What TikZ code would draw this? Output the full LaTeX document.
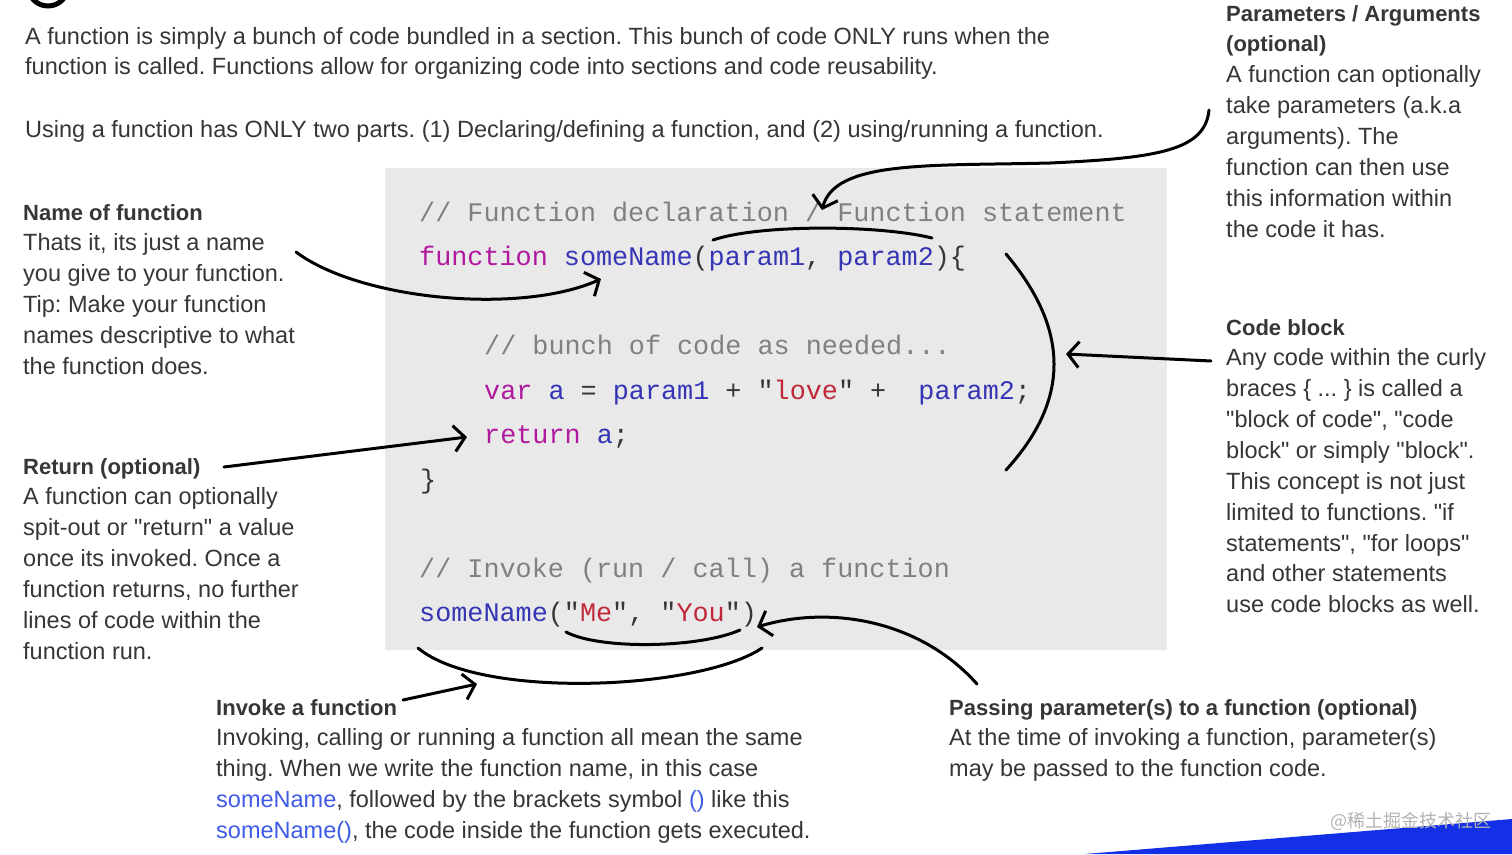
\documentclass[tikz,border=0pt]{standalone}
\usepackage{fontspec}
\setmainfont{Liberation Sans}[Ligatures=TeXOff]
\setmonofont{Liberation Mono}
\newfontfamily\cjkfont{Noto Sans CJK SC}
\usetikzlibrary{arrows.meta}
\frenchspacing

\definecolor{boxgray}{HTML}{E9E9E9}
\definecolor{txtgray}{HTML}{363636}
\definecolor{cmtgray}{HTML}{808080}
\definecolor{kwpink}{HTML}{B0199E}
\definecolor{idblue}{HTML}{3535B5}
\definecolor{strred}{HTML}{C0283A}
\definecolor{linkblue}{HTML}{3F5BE6}
\definecolor{bandblue}{HTML}{1430E6}

\newcommand\kwd[1]{\textcolor{kwpink}{#1}}
\newcommand\idn[1]{\textcolor{idblue}{#1}}
\newcommand\strg[1]{\textcolor{strred}{#1}}
\newcommand\lnk[1]{\textcolor{linkblue}{#1}}
\newcommand\hd[1]{{\fontsize{22}{30.85}\selectfont\bfseries #1}}

\tikzset{
  note/.style={anchor=north west, inner sep=0pt, align=left, text=txtgray,
    font=\fontsize{23.5}{30.85}\selectfont},
  code/.style={anchor=base west, inner sep=0pt, text=txtgray,
    font=\ttfamily\fontsize{26.8}{30}\selectfont},
  pen/.style={black, line width=3pt, line cap=round},
  penarrow/.style={pen, -{Straight Barb[length=11pt,width=26pt]}}
}

\begin{document}
\begin{tikzpicture}[x=1pt, y=-1pt]
    % Page
    \useasboundingbox (0,0) rectangle (1512,854);
    \clip (0,0) rectangle (1512,854);
    \fill[white] (0,0) rectangle (1512,854);
    \draw[black, line width=5pt] (48,-14) circle (20pt);

    % Code area
    \fill[boxgray] (385,168) rectangle (1167,650);

    % Intro text
    \node[note] (intro) at (25,22.3) {\strut A function is simply a bunch of code bundled in a section. This bunch of code ONLY runs when the\\
      function is called. Functions allow for organizing code into sections and code reusability.};
    \node[note] (parts) at (25,115.3) {\strut Using a function has ONLY two parts. (1) Declaring/defining a function, and (2) using/running a function.};

    % Code lines
    \node[code, text=cmtgray] (cmtDecl) at (419,221) {// Function declaration / Function statement};
    \node[code] (declLine) at (419,265.5) {\kwd{function} \idn{someName}(\idn{param1}, \idn{param2})\{};
    \node[code, text=cmtgray] (cmtBunch) at (484,354.5) {// bunch of code as needed...};
    \node[code] (varLine) at (484,399) {\kwd{var} \idn{a} = \idn{param1} + "\strg{love}" +\ \ \idn{param2};};
    \node[code] (retLine) at (484,443.5) {\kwd{return} \idn{a};};
    \node[code] (closeBrace) at (420,488) {\}};
    \node[code, text=cmtgray] (cmtInvoke) at (419,577) {// Invoke (run / call) a function};
    \node[code] (callLine) at (419,621.5) {\idn{someName}("\strg{Me}", "\strg{You}")};

    % Side notes
    \node[note] (paramNote) at (1226,-0.7) {\strut\hd{Parameters / Arguments}\\ \hd{(optional)}\\
      A function can optionally\\ take parameters (a.k.a\\ arguments). The\\
      function can then use\\ this information within\\ the code it has.};
    \node[note] (nameNote) at (23,198.3) {\strut\hd{Name of function}\\ Thats it, its just a name\\
      you give to your function.\\ Tip: Make your function\\ names descriptive to what\\ the function does.};
    \node[note] (returnNote) at (23,452.3) {\strut\hd{Return (optional)}\\ A function can optionally\\
      spit-out or "return" a value\\ once its invoked. Once a\\ function returns, no further\\
      lines of code within the\\ function run.};
    \node[note] (blockNote) at (1226,313.3) {\strut\hd{Code block}\\ Any code within the curly\\
      braces \{ ... \} is called a\\ "block of code", "code\\ block" or simply "block".\\
      This concept is not just\\ limited to functions. "if\\ statements", "for loops"\\
      and other statements\\ use code blocks as well.};
    \node[note] (invokeNote) at (216,693.3) {\strut\hd{Invoke a function}\\
      Invoking, calling or running a function all mean the same\\
      thing. When we write the function name, in this case\\
      \lnk{someName}, followed by the brackets symbol \lnk{()} like this\\
      \lnk{someName()}, the code inside the function gets executed.};
    \node[note] (passNote) at (949,693.3) {\strut\hd{Passing parameter(s) to a function (optional)}\\
      At the time of invoking a function, parameter(s)\\ may be passed to the function code.};

    % Hand drawn marks
    \coordinate (paramTip) at (822,210);
    \coordinate (nameTip) at (601,279);
    \coordinate (blockTip) at (1066,354);
    \coordinate (returnTip) at (467,437);
    \coordinate (invokeTip) at (477,684);
    \coordinate (passTip) at (757,627);

    \draw[penarrow] (1209,110) .. controls (1205,150) and (1160,158) .. (1050,163)
      .. controls (930,166) and (835,160) .. (paramTip);
    \draw[pen] (713,240) .. controls (760,224) and (880,225) .. (932,238);

    \draw[penarrow] (296,252) .. controls (360,300) and (520,315) .. (nameTip);

    \draw[pen] (1006,254) .. controls (1070,330) and (1070,400) .. (1006,470);
    \draw[penarrow] (1211,361) -- (blockTip);

    \draw[penarrow] (224,467) -- (returnTip);

    \draw[pen] (418,648) .. controls (480,700) and (700,690) .. (762,648);
    \draw[pen] (566,632) .. controls (600,650) and (700,648) .. (740,630);
    \draw[penarrow] (403,700) -- (invokeTip);

    \draw[penarrow] (977,684) .. controls (920,620) and (830,605) .. (passTip);

    % Footer
    \fill[bandblue] (1085,854) -- (1512,819) -- (1512,854) -- cycle;
    \node[anchor=base west, inner sep=0pt, text=gray!60,
      font=\cjkfont\fontsize{18}{18}\selectfont] (mark) at (1330,827) {@稀土掘金技术社区};
\end{tikzpicture}
\end{document}
